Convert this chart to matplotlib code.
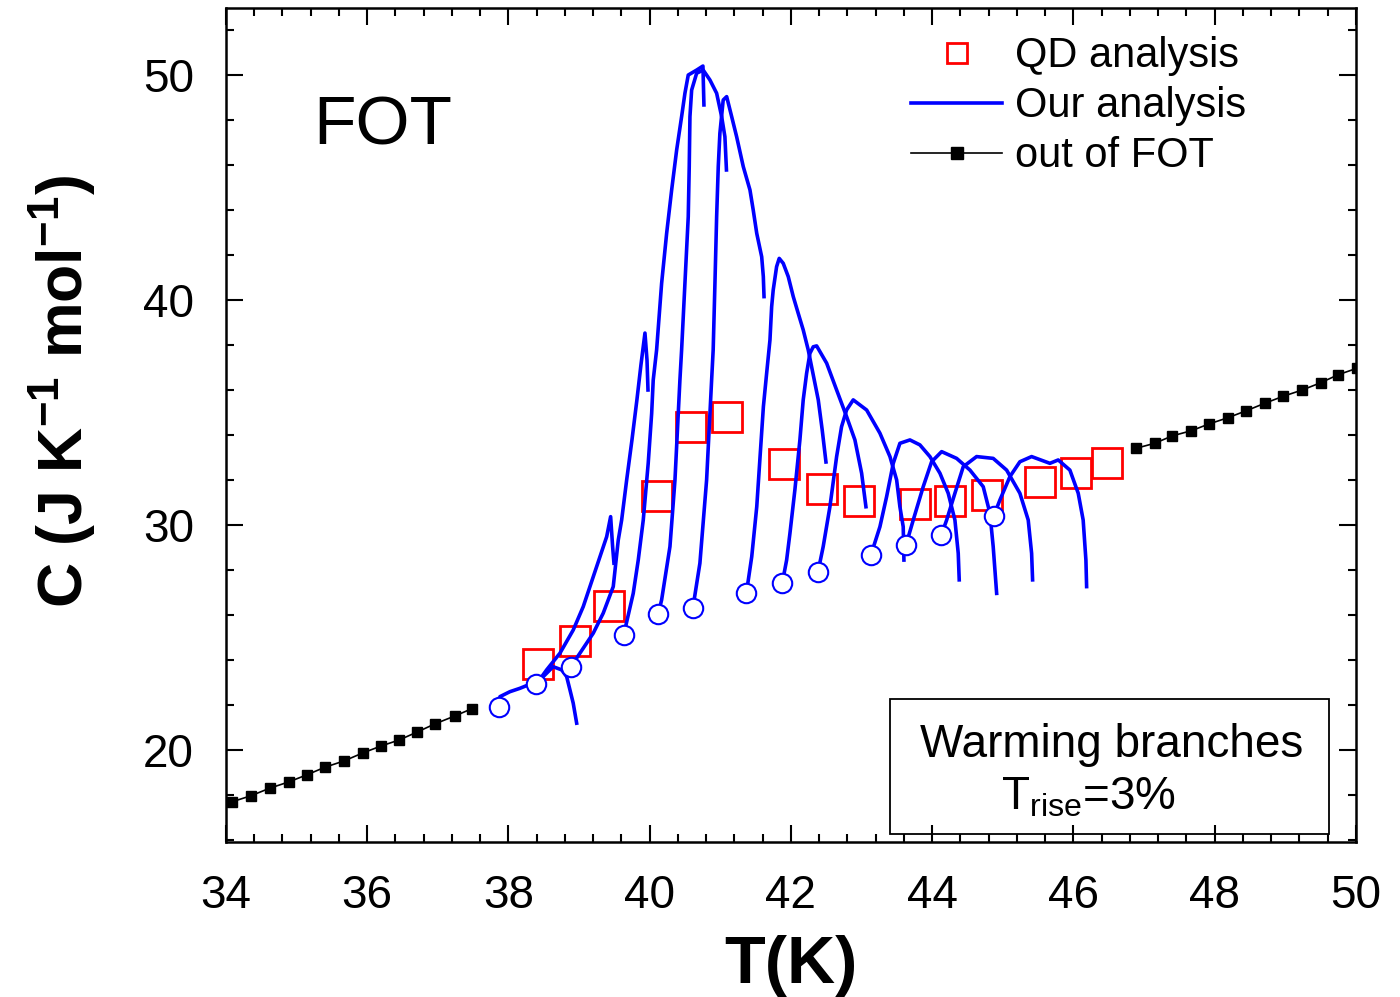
import matplotlib
matplotlib.use("Agg")
import matplotlib.pyplot as plt
from matplotlib.lines import Line2D
from matplotlib.patches import Rectangle
from matplotlib.ticker import MultipleLocator

plt.rcParams['font.family'] = ['Liberation Sans', 'DejaVu Sans']
plt.rcParams['mathtext.fontset'] = 'custom'
plt.rcParams['mathtext.rm'] = 'Liberation Sans'
plt.rcParams['mathtext.bf'] = 'Liberation Sans:bold'

# out of FOT (black squares)
out_T_low = [34.09, 34.35, 34.62, 34.89, 35.15, 35.40, 35.67, 35.94, 36.20, 36.45, 36.71, 36.96, 37.24, 37.48]
out_C_low = [17.70, 17.96, 18.30, 18.58, 18.90, 19.23, 19.51, 19.87, 20.18, 20.44, 20.80, 21.16, 21.51, 21.83]
out_T_high = [46.89, 47.15, 47.40, 47.67, 47.92, 48.19, 48.45, 48.71, 48.97, 49.24, 49.50, 49.75, 50.01]
out_C_high = [33.41, 33.63, 33.96, 34.19, 34.49, 34.77, 35.08, 35.41, 35.72, 36.00, 36.32, 36.68, 36.96]

# QD analysis (red open squares)
qd_T = [38.42, 38.94, 39.42, 40.11, 40.59, 41.10, 41.90, 42.44, 42.96, 43.75, 44.25, 44.77, 45.52, 46.03, 46.48]
qd_C = [23.81, 24.83, 26.41, 31.29, 34.36, 34.80, 32.71, 31.61, 31.08, 30.93, 31.08, 31.33, 31.90, 32.30, 32.77]

# start points of the warming branches (open circles)
circ_T = [37.861, 38.394, 38.881, 39.631, 40.121, 40.612, 41.370, 41.877, 42.382, 43.133, 43.631, 44.128, 44.870]
circ_C = [21.90, 22.92, 23.69, 25.10, 26.04, 26.32, 26.99, 27.41, 27.90, 28.67, 29.13, 29.54, 30.39]

# warming branches (our analysis)
br1_T = [37.861, 37.880, 38.021, 38.163, 38.280, 38.394, 38.493, 38.588, 38.634, 38.753, 38.824, 38.871, 38.917, 38.966]
br1_C = [21.90, 22.37, 22.59, 22.74, 22.89, 23.02, 23.26, 23.56, 23.70, 23.56, 23.26, 22.67, 22.08, 21.19]
br2_T = [38.394, 38.541, 38.729, 38.917, 39.059, 39.201, 39.296, 39.391, 39.447, 39.475, 39.494]
br2_C = [22.92, 23.56, 24.30, 25.33, 26.37, 27.70, 28.59, 29.48, 30.37, 29.04, 28.30]
br3_T = [38.881, 39.012, 39.201, 39.342, 39.484, 39.555, 39.603, 39.674, 39.749, 39.819, 39.876, 39.933, 39.962, 39.976]
br3_C = [23.69, 24.30, 25.19, 26.08, 27.26, 29.33, 30.22, 32.00, 33.78, 35.56, 37.11, 38.53, 37.33, 36.00]
br4_T = [39.631, 39.767, 39.838, 39.909, 39.979, 40.028, 40.050, 40.098, 40.169, 40.240, 40.311, 40.382,
         40.452, 40.499, 40.546, 40.665, 40.754, 40.768]
br4_C = [25.10, 26.96, 28.44, 30.22, 32.74, 34.96, 36.44, 37.78, 40.74, 42.96, 44.89, 46.67,
         48.15, 49.19, 50.00, 50.22, 50.40, 48.67]
br5_T = [40.121, 40.169, 40.287, 40.358, 40.428, 40.452, 40.499, 40.546, 40.560, 40.570, 40.594, 40.665,
         40.758, 40.853, 40.948, 41.019, 41.065, 41.087]
br5_C = [26.04, 26.67, 29.04, 32.00, 36.44, 37.78, 40.74, 43.70, 45.93, 48.15, 49.33, 50.08,
         50.22, 49.78, 49.19, 48.15, 47.26, 45.78]
br6_T = [40.612, 40.711, 40.806, 40.877, 40.899, 40.924, 40.948, 40.971, 40.994, 41.041, 41.090, 41.161,
         41.231, 41.325, 41.420, 41.466, 41.516, 41.586, 41.609, 41.619]
br6_C = [26.32, 28.30, 32.00, 36.44, 37.78, 40.74, 43.70, 45.93, 47.41, 48.89, 49.04, 48.15,
         47.26, 45.93, 44.89, 44.00, 42.96, 41.92, 41.04, 40.15]
br7_T = [41.370, 41.445, 41.516, 41.563, 41.610, 41.656, 41.703, 41.727, 41.749, 41.797, 41.834, 41.891,
         41.962, 42.033, 42.103, 42.174, 42.245, 42.316, 42.387, 42.443, 42.496]
br7_C = [26.99, 28.59, 30.81, 33.04, 35.26, 36.74, 38.22, 39.70, 40.44, 41.48, 41.85, 41.63,
         41.04, 40.15, 39.41, 38.67, 37.78, 36.67, 35.56, 34.22, 32.80]
br8_T = [41.877, 41.939, 41.986, 42.056, 42.127, 42.174, 42.222, 42.269, 42.316, 42.364, 42.506, 42.647,
         42.789, 42.906, 43.001, 43.062]
br8_C = [27.41, 28.44, 29.63, 31.56, 33.78, 35.56, 36.74, 37.63, 37.92, 37.96, 37.19, 36.00,
         34.81, 33.78, 32.30, 30.81]
br9_T = [42.382, 42.457, 42.552, 42.647, 42.717, 42.788, 42.882, 43.072, 43.260, 43.402, 43.497, 43.543, 43.590, 43.600]
br9_C = [27.90, 29.04, 30.81, 33.04, 34.37, 35.11, 35.56, 35.11, 34.08, 33.04, 32.00, 30.81, 29.92, 28.44]
br10_T = [43.133, 43.260, 43.355, 43.449, 43.543, 43.685, 43.826, 43.968, 44.110, 44.227, 44.322, 44.369, 44.383]
br10_C = [28.67, 29.92, 31.26, 32.74, 33.63, 33.78, 33.56, 33.04, 32.30, 31.41, 30.22, 28.74, 27.56]
br11_T = [43.631, 43.732, 43.873, 43.992, 44.134, 44.346, 44.535, 44.723, 44.818, 44.864, 44.913]
br11_C = [29.13, 30.22, 31.70, 32.81, 33.26, 32.96, 32.44, 31.70, 30.52, 29.04, 26.96]
br12_T = [44.128, 44.205, 44.322, 44.440, 44.629, 44.864, 45.054, 45.242, 45.360, 45.408, 45.422]
br12_C = [29.54, 30.22, 31.41, 32.59, 33.04, 32.96, 32.44, 31.41, 30.22, 28.74, 27.56]
br13_T = [44.870, 44.959, 45.101, 45.242, 45.408, 45.667, 45.785, 45.950, 46.068, 46.138, 46.177, 46.187]
br13_C = [30.39, 31.11, 32.15, 32.81, 33.04, 32.74, 32.89, 32.44, 31.41, 30.22, 28.44, 27.26]

branches = [(br1_T, br1_C), (br2_T, br2_C), (br3_T, br3_C), (br4_T, br4_C), (br5_T, br5_C),
            (br6_T, br6_C), (br7_T, br7_C), (br8_T, br8_C), (br9_T, br9_C), (br10_T, br10_C),
            (br11_T, br11_C), (br12_T, br12_C), (br13_T, br13_C)]

fig = plt.figure(figsize=(14, 9.97), dpi=100)
ax = fig.add_axes([0.1614, 0.1555, 0.8071, 0.8365])

ax.plot(out_T_low, out_C_low, color='black', lw=1.2, marker='s', ms=7.5, zorder=3)
ax.plot(out_T_high, out_C_high, color='black', lw=1.2, marker='s', ms=7.5, zorder=3)

ax.plot(qd_T, qd_C, ls='none', marker='s', ms=21, mfc='none', mec='#ff0000', mew=2.0, zorder=4)

for t, c in branches:
    ax.plot(t, c, color='#0000ff', lw=2.6, zorder=5)

ax.plot(circ_T, circ_C, ls='none', marker='o', ms=14, mfc='white', mec='#0000ff', mew=1.5, zorder=6)

ax.set_xlim(34, 50)
ax.set_ylim(15.91, 52.98)
ax.xaxis.set_major_locator(MultipleLocator(2))
ax.xaxis.set_minor_locator(MultipleLocator(0.4))
ax.yaxis.set_major_locator(MultipleLocator(10))
ax.yaxis.set_minor_locator(MultipleLocator(2))
ax.tick_params(which='both', direction='in', top=True, right=True, width=1.5)
ax.tick_params(which='major', length=12, labelsize=33)
ax.tick_params(which='minor', length=6)
ax.tick_params(axis='x', which='major', pad=23)
ax.tick_params(axis='y', which='major', pad=23)
for s in ax.spines.values():
    s.set_linewidth(1.8)

ax.set_xlabel('T(K)', fontsize=48, fontweight='bold', labelpad=12)
ax.set_ylabel(r'C (J K$^{\mathbf{-1}}$ mol$^{\mathbf{-1}}$)', fontsize=45, fontweight='bold')
ax.yaxis.set_label_coords(-0.112, 0.54)

ax.text(0.077, 0.836, 'FOT', transform=ax.transAxes, fontsize=50, va='baseline', ha='left')

ax.add_patch(Rectangle((0.5876, 0.0096), 0.3885, 0.1619, transform=ax.transAxes,
                       fill=False, ec='black', lw=1.3, zorder=7))
ax.text(0.7841, 0.1019, 'Warming branches', transform=ax.transAxes, fontsize=33,
        ha='center', va='baseline', zorder=8)
ax.text(0.7631, 0.0384, r'T$_{\mathrm{rise}}$=3%', transform=ax.transAxes, fontsize=33,
        ha='center', va='baseline', zorder=8)

handles = [
    Line2D([], [], ls='none', marker='s', ms=15, mfc='none', mec='#ff0000', mew=2.0),
    Line2D([], [], color='#0000ff', lw=2.6),
    Line2D([], [], color='black', lw=1.2, marker='s', ms=9),
]
ax.legend(handles, ['QD analysis', 'Our analysis', 'out of FOT'], loc='upper left',
          bbox_to_anchor=(0.606, 0.966), frameon=False, fontsize=30, handlelength=2.2,
          handletextpad=0.3, labelspacing=0.24, borderpad=0, borderaxespad=0)

fig.savefig('out.png', dpi=100)
